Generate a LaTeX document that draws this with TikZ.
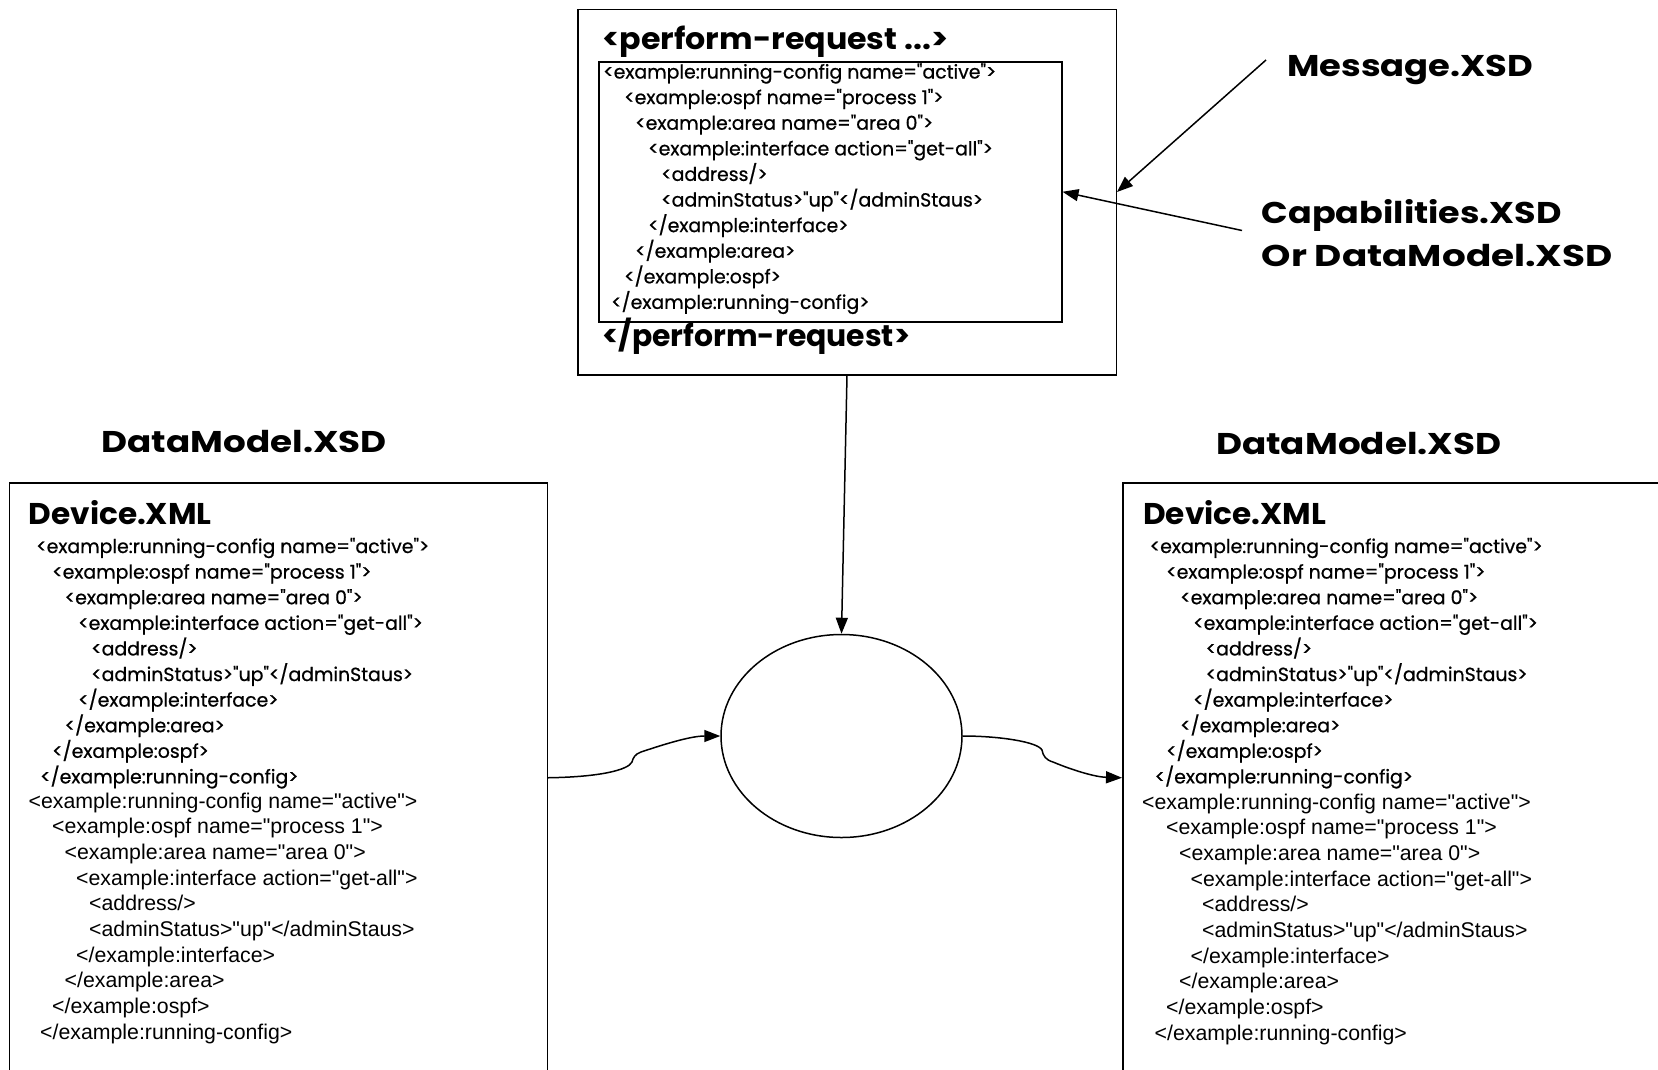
\documentclass[tikz,border=0pt]{standalone}
\usepackage{graphicx}
\usepackage{fontspec}
\setmainfont{Liberation Sans}[Ligatures=TeXOff]
\newfontfamily\handfont{Poppins}[Ligatures=TeXOff,FakeBold=0.7]
\newfontfamily\handbold{Poppins}[Ligatures=TeXOff,UprightFont=*-Bold]
\usetikzlibrary{arrows.meta,shapes.geometric}

% text fitted to a given width (in pt), height unchanged
\newsavebox\fitbox
\newcommand\fitw[2]{\sbox\fitbox{#2}\pgfmathsetmacro\fitratio{#1/\the\wd\fitbox}\scalebox{\fitratio}[1]{\usebox\fitbox}}

% the XML fragment, one macro per line
\newcommand\xmlA{<example:running-config name="active">}
\newcommand\xmlB{<example:ospf name="process 1">}
\newcommand\xmlC{<example:area name="area 0">}
\newcommand\xmlD{<example:interface action="get-all">}
\newcommand\xmlE{<address/>}
\newcommand\xmlF{<adminStatus>"up"</adminStaus>}
\newcommand\xmlG{</example:interface>}
\newcommand\xmlH{</example:area>}
\newcommand\xmlI{</example:ospf>}
\newcommand\xmlJ{</example:running-config>}

\tikzset{
  frame/.style={draw, line width=1.5pt, inner sep=0pt, anchor=north west},
  link/.style={line width=1.5pt, -{Triangle[length=16pt,width=12pt]}},
  hand/.style={anchor=west, inner sep=0pt, text height=14pt, text depth=5pt,
    yshift=-3pt, font=\handfont\fontsize{19}{19}\selectfont},
  plain/.style={anchor=west, inner sep=0pt, text height=15pt, text depth=5pt,
    yshift=-2.5pt, font=\fontsize{21.3}{21.3}\selectfont},
  title/.style={anchor=west, inner sep=0pt, text height=24pt, text depth=4pt,
    font=\handbold\fontsize{30}{30}\selectfont},
}

\begin{document}
% common horizontal squeeze for the handwritten XML lines
\sbox\fitbox{\handfont\fontsize{19}{19}\selectfont\xmlA}
\pgfmathsetmacro\handratio{393/\the\wd\fitbox}
\xdef\handratio{\handratio}
\begin{tikzpicture}[x=1pt,y=-1pt]
\useasboundingbox (0,0) rectangle (1658,1069);
\fill[white] (0,0) rectangle (1658,1069);
\clip (0,0) rectangle (1658,1069);

% ---- request message -------------------------------------------------
\node[frame, minimum width=538.5pt, minimum height=365.5pt] (req) at (577,8.5) {};
\node[frame, minimum width=463pt, minimum height=260pt] (inner) at (598,61) {};
\node[title] (reqopen) at (602,39.5) {\fitw{346}{<perform-request ...>}};
\node[title] (reqclose) at (602,336) {\fitw{308}{</perform-request>}};
\foreach \dx/\t [count=\i] in {0/\xmlA,21/\xmlB,32/\xmlC,45/\xmlD,58/\xmlE,
                               58/\xmlF,45/\xmlG,32/\xmlH,21/\xmlI,8/\xmlJ}
  \node[hand] (rq\i) at ({603+\dx},{71+25.6*(\i-1)}) {\scalebox{\handratio}[1]{\t}};

% ---- schema labels ----------------------------------------------------
\node[title] (msg) at (1287,66.5) {\fitw{246}{Message.XSD}};
\node[title] (cap1) at (1261.5,213) {\fitw{300}{Capabilities.XSD}};
\node[title] (cap2) at (1261.5,256) {\fitw{351}{Or DataModel.XSD}};
\coordinate (msgtail) at (1266,60);
\coordinate (captail) at (1242,230.5);
\draw[link] (msgtail) -- (req.east);
\draw[link] (captail) -- (inner.east);

% ---- processing step --------------------------------------------------
\node[ellipse, draw, line width=1.5pt, inner sep=0pt,
      minimum width=241pt, minimum height=203pt] (proc) at (841.5,736) {};

% ---- devices ----------------------------------------------------------
\node[title] (dmL) at (101.5,442) {\fitw{285}{DataModel.XSD}};
\node[title] (dmR) at (1216,444) {\fitw{285}{DataModel.XSD}};
\node[frame, minimum width=538pt, minimum height=590pt] (devL) at (8.5,482) {};
\node[frame, minimum width=560pt, minimum height=590pt] (devR) at (1122,482) {};
\node[title] (xmlL) at (28.5,514) {\fitw{183}{Device.XML}};
\node[title] (xmlR) at (1143,514) {\fitw{183}{Device.XML}};

\foreach \dx/\t [count=\i] in {0/\xmlA,16/\xmlB,28.5/\xmlC,42/\xmlD,55/\xmlE,
                               55/\xmlF,42/\xmlG,28.5/\xmlH,16/\xmlI,4/\xmlJ}
  \node[hand] (lh\i) at ({36+\dx},{545.5+25.6*(\i-1)}) {\scalebox{\handratio}[1]{\t}};
\foreach \dx/\t [count=\i] in {0/\xmlA,23.5/\xmlB,36/\xmlC,47.5/\xmlD,60.5/\xmlE,
                               60.5/\xmlF,47.5/\xmlG,36/\xmlH,23.5/\xmlI,11.5/\xmlJ}
  \node[plain] (lp\i) at ({28.5+\dx},{800.5+25.7*(\i-1)}) {\t};

\foreach \dx/\t [count=\i] in {0/\xmlA,16.5/\xmlB,30.5/\xmlC,43.5/\xmlD,56/\xmlE,
                               56/\xmlF,43.5/\xmlG,30.5/\xmlH,16.5/\xmlI,5/\xmlJ}
  \node[hand] (rh\i) at ({1149.5+\dx},{545.5+25.6*(\i-1)}) {\scalebox{\handratio}[1]{\t}};
\foreach \dx/\t [count=\i] in {0/\xmlA,24/\xmlB,37/\xmlC,48.5/\xmlD,60/\xmlE,
                               60/\xmlF,48.5/\xmlG,37/\xmlH,24/\xmlI,12.5/\xmlJ}
  \node[plain] (rp\i) at ({1142+\dx},{801.5+25.7*(\i-1)}) {\t};

% ---- connectors -------------------------------------------------------
\draw[link] (req.south) -- (proc.north);
\draw[link] (devL.east) .. controls (600,777) and (628,770) .. (632,762)
  .. controls (633,758) and (635,754) .. (641,752)
  .. controls (662,745) and (690,736) .. (proc.west);
\draw[link] (proc.east) .. controls (1000,736) and (1038,742) .. (1042,750)
  .. controls (1043,756) and (1046,760) .. (1053,762)
  .. controls (1072,770) and (1095,777) .. (devR.west);
\end{tikzpicture}
\end{document}
